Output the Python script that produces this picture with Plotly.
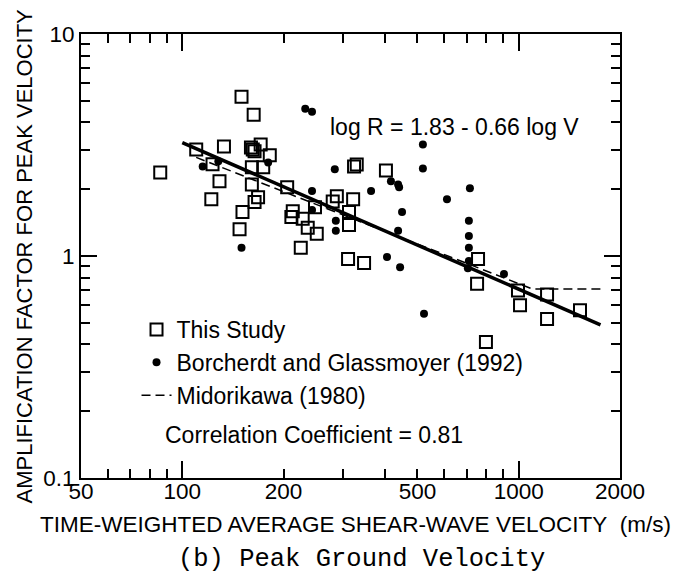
import plotly.graph_objects as go

# ---- data ----
study_v = [86, 110, 133, 123, 129, 122, 151, 148, 150, 163, 160, 162, 164, 171, 182,
           161, 161, 174, 168, 164, 205, 213, 211, 228, 236, 251, 225, 248, 288, 280,
           322, 313, 313, 311, 347, 324, 330, 403, 757, 752, 995, 1214, 1009, 1214, 1521, 799]
study_r = [2.38, 3.02, 3.11, 2.59, 2.17, 1.80, 1.58, 1.32, 5.22, 4.33, 3.08, 3.02, 2.96, 3.18, 2.84,
           2.10, 2.51, 2.51, 1.84, 1.75, 2.04, 1.59, 1.50, 1.47, 1.34, 1.26, 1.09, 1.66, 1.86, 1.76,
           1.80, 1.58, 1.38, 0.97, 0.93, 2.53, 2.58, 2.43, 0.97, 0.75, 0.70, 0.67, 0.60, 0.52, 0.57, 0.41]

bg_v = [232, 243, 115, 128, 180, 150, 243, 243, 284, 286, 286, 364, 417, 438, 441,
        450, 438, 406, 444, 519, 519, 612, 716, 711, 711, 711, 711, 706, 904, 523]
bg_r = [4.61, 4.47, 2.53, 2.67, 2.64, 1.09, 1.96, 1.61, 2.46, 1.44, 1.30, 1.96, 2.17, 2.10, 2.04,
        1.58, 1.30, 0.99, 0.89, 3.18, 2.48, 1.80, 2.02, 1.44, 1.23, 1.09, 0.95, 0.88, 0.83, 0.55]

fit_v = [100, 1750]
fit_r = [3.24, 0.49]

mido_v = [110, 1095, 1770]
mido_r = [2.78, 0.711, 0.711]

x_tickvals = [50, 100, 200, 500, 1000, 2000]
x_ticktext = ["50", "100", "200", "500", "1000", "2000"]
x_minor = [60, 70, 80, 90, 300, 400, 600, 700, 800, 900]
x_long = [100, 1000]
y_tickvals = [0.1, 1, 10]
y_ticktext = ["0.1", "1", "10"]
y_minor = [0.2, 0.3, 0.4, 0.5, 0.6, 0.7, 0.8, 0.9, 2, 3, 4, 5, 6, 7, 8, 9]

FONT = "Liberation Sans, Arial, sans-serif"

fig = go.Figure()
fig.add_trace(go.Scatter(x=study_v, y=study_r, mode="markers", name="This Study",
                         marker=dict(symbol="square-open", size=12, color="black",
                                     line=dict(width=2, color="black"))))
fig.add_trace(go.Scatter(x=bg_v, y=bg_r, mode="markers", name="Borcherdt and Glassmoyer (1992)",
                         marker=dict(symbol="circle", size=8, color="black")))
fig.add_trace(go.Scatter(x=mido_v, y=mido_r, mode="lines", name="Midorikawa (1980)",
                         line=dict(color="black", width=1.5, dash="9px,5px")))
fig.add_trace(go.Scatter(x=fit_v, y=fit_r, mode="lines", showlegend=False,
                         line=dict(color="black", width=3.5)))
# helper trace for long major ticks on the overlaid axis
fig.add_trace(go.Scatter(x=fit_v, y=fit_r, xaxis="x2", mode="lines", showlegend=False,
                         line=dict(width=0), hoverinfo="skip", opacity=0))

xr = [1.69897, 3.30103]
fig.update_layout(
    width=675, height=577,
    margin=dict(l=81, r=55, t=34, b=99),
    paper_bgcolor="white", plot_bgcolor="white",
    font=dict(family=FONT, size=22, color="black"),
    showlegend=True,
    legend=dict(x=0.103, y=0.383, xanchor="left", yanchor="top",
                bgcolor="rgba(0,0,0,0)", font=dict(size=23), tracegroupgap=0),
    xaxis=dict(type="log", range=xr, tickvals=x_tickvals, ticktext=x_ticktext,
               ticks="inside", ticklen=9, tickwidth=1.5, tickcolor="black",
               showline=True, linewidth=2, linecolor="black", mirror="ticks",
               showgrid=False, zeroline=False, ticklabelstandoff=-8,
               tickfont=dict(size=22.5),
               minor=dict(tickvals=x_minor, ticks="inside", ticklen=9, tickwidth=1.5,
                          tickcolor="black", showgrid=False)),
    xaxis2=dict(type="log", range=xr, overlaying="x", matches="x", side="bottom",
                tickvals=x_long, ticks="inside", ticklen=17, tickwidth=1.5, tickcolor="black",
                showticklabels=False, showline=False, mirror="ticks", showgrid=False,
                zeroline=False),
    yaxis=dict(type="log", range=[-1, 1], tickvals=y_tickvals, ticktext=y_ticktext,
               ticks="inside", ticklen=16, tickwidth=1.5, tickcolor="black",
               showline=True, linewidth=2, linecolor="black", mirror="ticks",
               showgrid=False, zeroline=False, tickfont=dict(size=22.5),
               minor=dict(tickvals=y_minor, ticks="inside", ticklen=9, tickwidth=1.5,
                          tickcolor="black", showgrid=False)),
)

fig.add_annotation(text="log R = 1.83 - 0.66 log V", xref="paper", yref="paper",
                   x=0.4583, y=0.7915, xanchor="left", yanchor="middle",
                   showarrow=False, font=dict(size=23))
fig.add_annotation(text="Correlation Coefficient = 0.81", xref="paper", yref="paper",
                   x=0.1521, y=0.0964, xanchor="left", yanchor="middle",
                   showarrow=False, font=dict(size=23))
fig.add_annotation(text="AMPLIFICATION FACTOR FOR PEAK VELOCITY", xref="paper", yref="paper",
                   x=-0.1039, y=0.5011, xanchor="center", yanchor="middle", textangle=-90,
                   showarrow=False, font=dict(size=22))
fig.add_annotation(text="TIME-WEIGHTED AVERAGE SHEAR-WAVE VELOCITY&nbsp;&nbsp;(m/s)",
                   xref="paper", yref="paper",
                   x=0.5093, y=-0.1054, xanchor="center", yanchor="middle",
                   showarrow=False, font=dict(size=22.5))
fig.add_annotation(text="(b) Peak Ground Velocity", xref="paper", yref="paper",
                   x=0.5204, y=-0.184, xanchor="center", yanchor="middle",
                   showarrow=False,
                   font=dict(size=25.5, family="Liberation Mono, Courier New, monospace"))

fig.write_html("out.html")
